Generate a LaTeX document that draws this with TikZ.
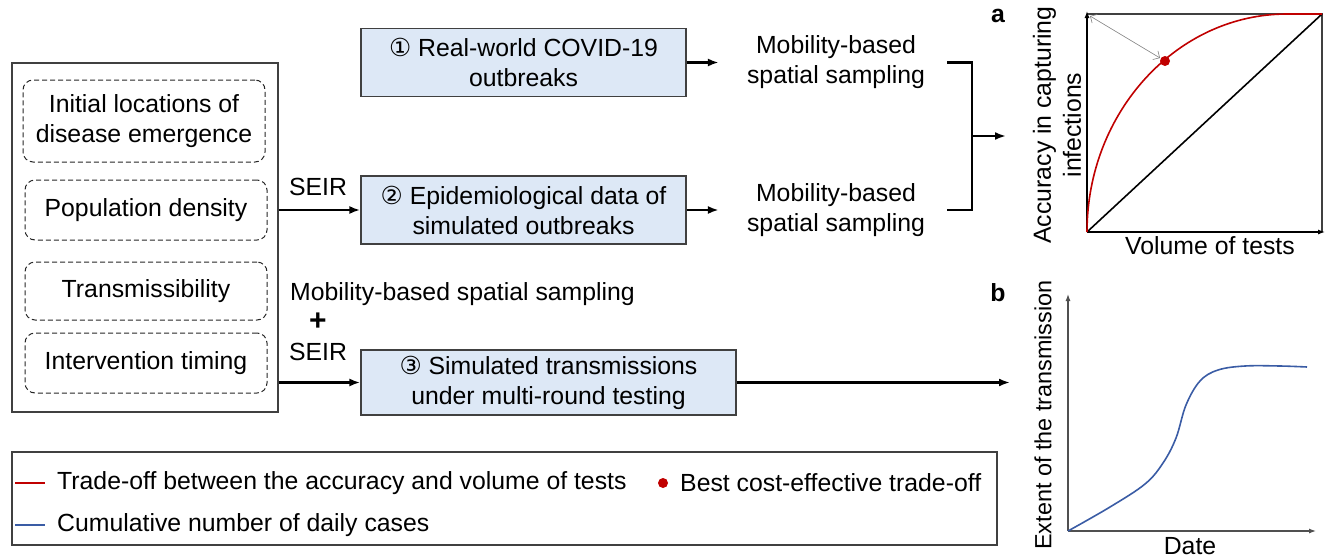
\documentclass[tikz,border=0pt]{standalone}
\usepackage{fontspec}
\setmainfont{Liberation Sans}
\newfontfamily\circfont{DejaVu Sans}
\usetikzlibrary{arrows.meta,positioning}

\definecolor{stagefill}{RGB}{221,232,246}
\definecolor{curvered}{RGB}{192,0,0}
\definecolor{curveblue}{RGB}{58,92,165}
\definecolor{axisgray}{RGB}{80,80,80}

\tikzset{
  txt/.style={align=center, inner sep=0pt},
  stagebox/.style={txt, draw=black!75, fill=stagefill, line width=1.2pt,
    minimum width=325pt, minimum height=68pt},
  factorbox/.style={txt, draw=black!85, line width=1pt, dashed, dash pattern=on 5pt off 3pt,
    rounded corners=10pt, minimum width=242pt},
  flow/.style={-{Latex[length=11pt,width=8pt]}, line width=2.3pt},
  smalltip/.style={-{Latex[length=7pt,width=5pt]}, line width=1.2pt},
  panel/.style={font=\fontsize{24.8}{30}\selectfont\bfseries, inner sep=0pt},
}

\begin{document}
\begin{tikzpicture}[x=1pt, y=-1pt, font=\fontsize{24.8}{30}\selectfont]
  \useasboundingbox (0,0) rectangle (1325,557);

  % input factors
  \node[draw=black!75, line width=1.2pt, minimum width=266pt, minimum height=349pt] (factors) at (145,237.5) {};
  \node[factorbox, minimum height=82pt] (emerge)  at (144,121) {Initial locations of\\disease emergence};
  \node[factorbox, minimum height=60pt] (density) at (146,210) {Population density};
  \node[factorbox, minimum height=58pt] (trans)   at (146,291) {Transmissibility};
  \node[factorbox, minimum height=60pt] (timing)  at (146,363) {Intervention timing};

  % three data sources
  \node[stagebox] (real) at (523.5,62.5) {{\circfont ①} Real-world COVID-19\\outbreaks};
  \node[stagebox] (epi)  at (523.5,210)  {{\circfont ②} Epidemiological data of\\simulated outbreaks};
  \node[stagebox, minimum width=375pt, minimum height=65pt] (sim) at (548.5,382.5)
    {{\circfont ③} Simulated transmissions\\under multi-round testing};

  \node[txt] (samp1) at (836,62.5) {Mobility-based\\spatial sampling};
  \node[txt] (samp2) at (836,210)  {Mobility-based\\spatial sampling};

  \node[txt] (seir1) at (318,187) {SEIR};
  \node[txt, anchor=west] (mobseir) at (290,294) {Mobility-based spatial sampling};
  \node[txt, font=\fontsize{30}{30}\selectfont\bfseries] (plus) at (318,322) {+};
  \node[txt] (seir2) at (318,352) {SEIR};

  \draw[flow] (factors.east |- epi) -- (epi.west);
  \draw[flow] (factors.east |- sim) -- (sim.west);
  \draw[flow] (real.east) -- ([xshift=-28pt]samp1.west);
  \draw[flow] (epi.east) -- ([xshift=-28pt]samp2.west);

  % bracket into panel a
  \coordinate (join) at (972,136);
  \coordinate (plotain) at (1006,136);
  \draw[line width=2.3pt] ([xshift=22pt]samp1.east) -| (join) |- ([xshift=22pt]samp2.east);
  \draw[flow] (join) -- (plotain);

  \coordinate (plotbin) at (1010,382.5);
  \draw[flow] (sim.east) -- (plotbin);

  % panel a
  \node[panel] (lbla) at (998,16) {a};
  \coordinate (ao) at (1087,232);
  \draw[black!75, line width=1.2pt] (1087,14) -- (1322,14) -- (1322,232);
  \draw[smalltip] (ao) -- (1087,11);
  \draw[smalltip] (ao) -- (1325,232);
  \draw[line width=1.6pt] (ao) -- (1322,14);
  \draw[curvered, line width=1.6pt] (ao) .. controls (1087,112) and (1177,14) .. (1287,14) -- (1322,14);
  \fill[curvered] (1165,61) circle (5pt);
  \draw[gray, line width=0.6pt, {Straight Barb[length=5pt]}-{Straight Barb[length=5pt]}] (1090,16) -- (1160,58);
  \node[txt, rotate=90] (acclbl) at (1057,125) {Accuracy in capturing\\infections};
  \node[txt] (vollbl) at (1210,246) {Volume of tests};

  % panel b
  \node[panel] (lblb) at (998,293) {b};
  \coordinate (bo) at (1068,531);
  \draw[axisgray, smalltip] (bo) -- (1068,294);
  \draw[axisgray, smalltip] (bo) -- (1316,531);
  \draw[curveblue, line width=1.6pt] plot[smooth, tension=0.6] coordinates
    {(1068,531) (1110,507) (1145,484) (1163,463) (1176,438) (1186,405) (1200,381)
     (1218,370) (1245,366) (1280,366) (1307,367)};
  \node[txt, rotate=90, font=\fontsize{23.4}{28}\selectfont] (extlbl) at (1043,415) {Extent of the transmission};
  \node[txt] (datelbl) at (1190,546) {Date};

  % legend
  \node[draw=black!75, line width=1.2pt, minimum width=985pt, minimum height=93pt] (legend) at (504.5,498.5) {};
  \draw[curvered, line width=1.4pt] (15,483) -- (45,483);
  \node[txt, anchor=west] (legred) at (57,483) {Trade-off between the accuracy and volume of tests};
  \fill[curvered] (663,483) circle (5pt);
  \node[txt, anchor=west] (legdot) at (680,483) {Best cost-effective trade-off};
  \draw[curveblue, line width=1.4pt] (15,525) -- (45,525);
  \node[txt, anchor=west] (legblue) at (57,525) {Cumulative number of daily cases};
\end{tikzpicture}
\end{document}
